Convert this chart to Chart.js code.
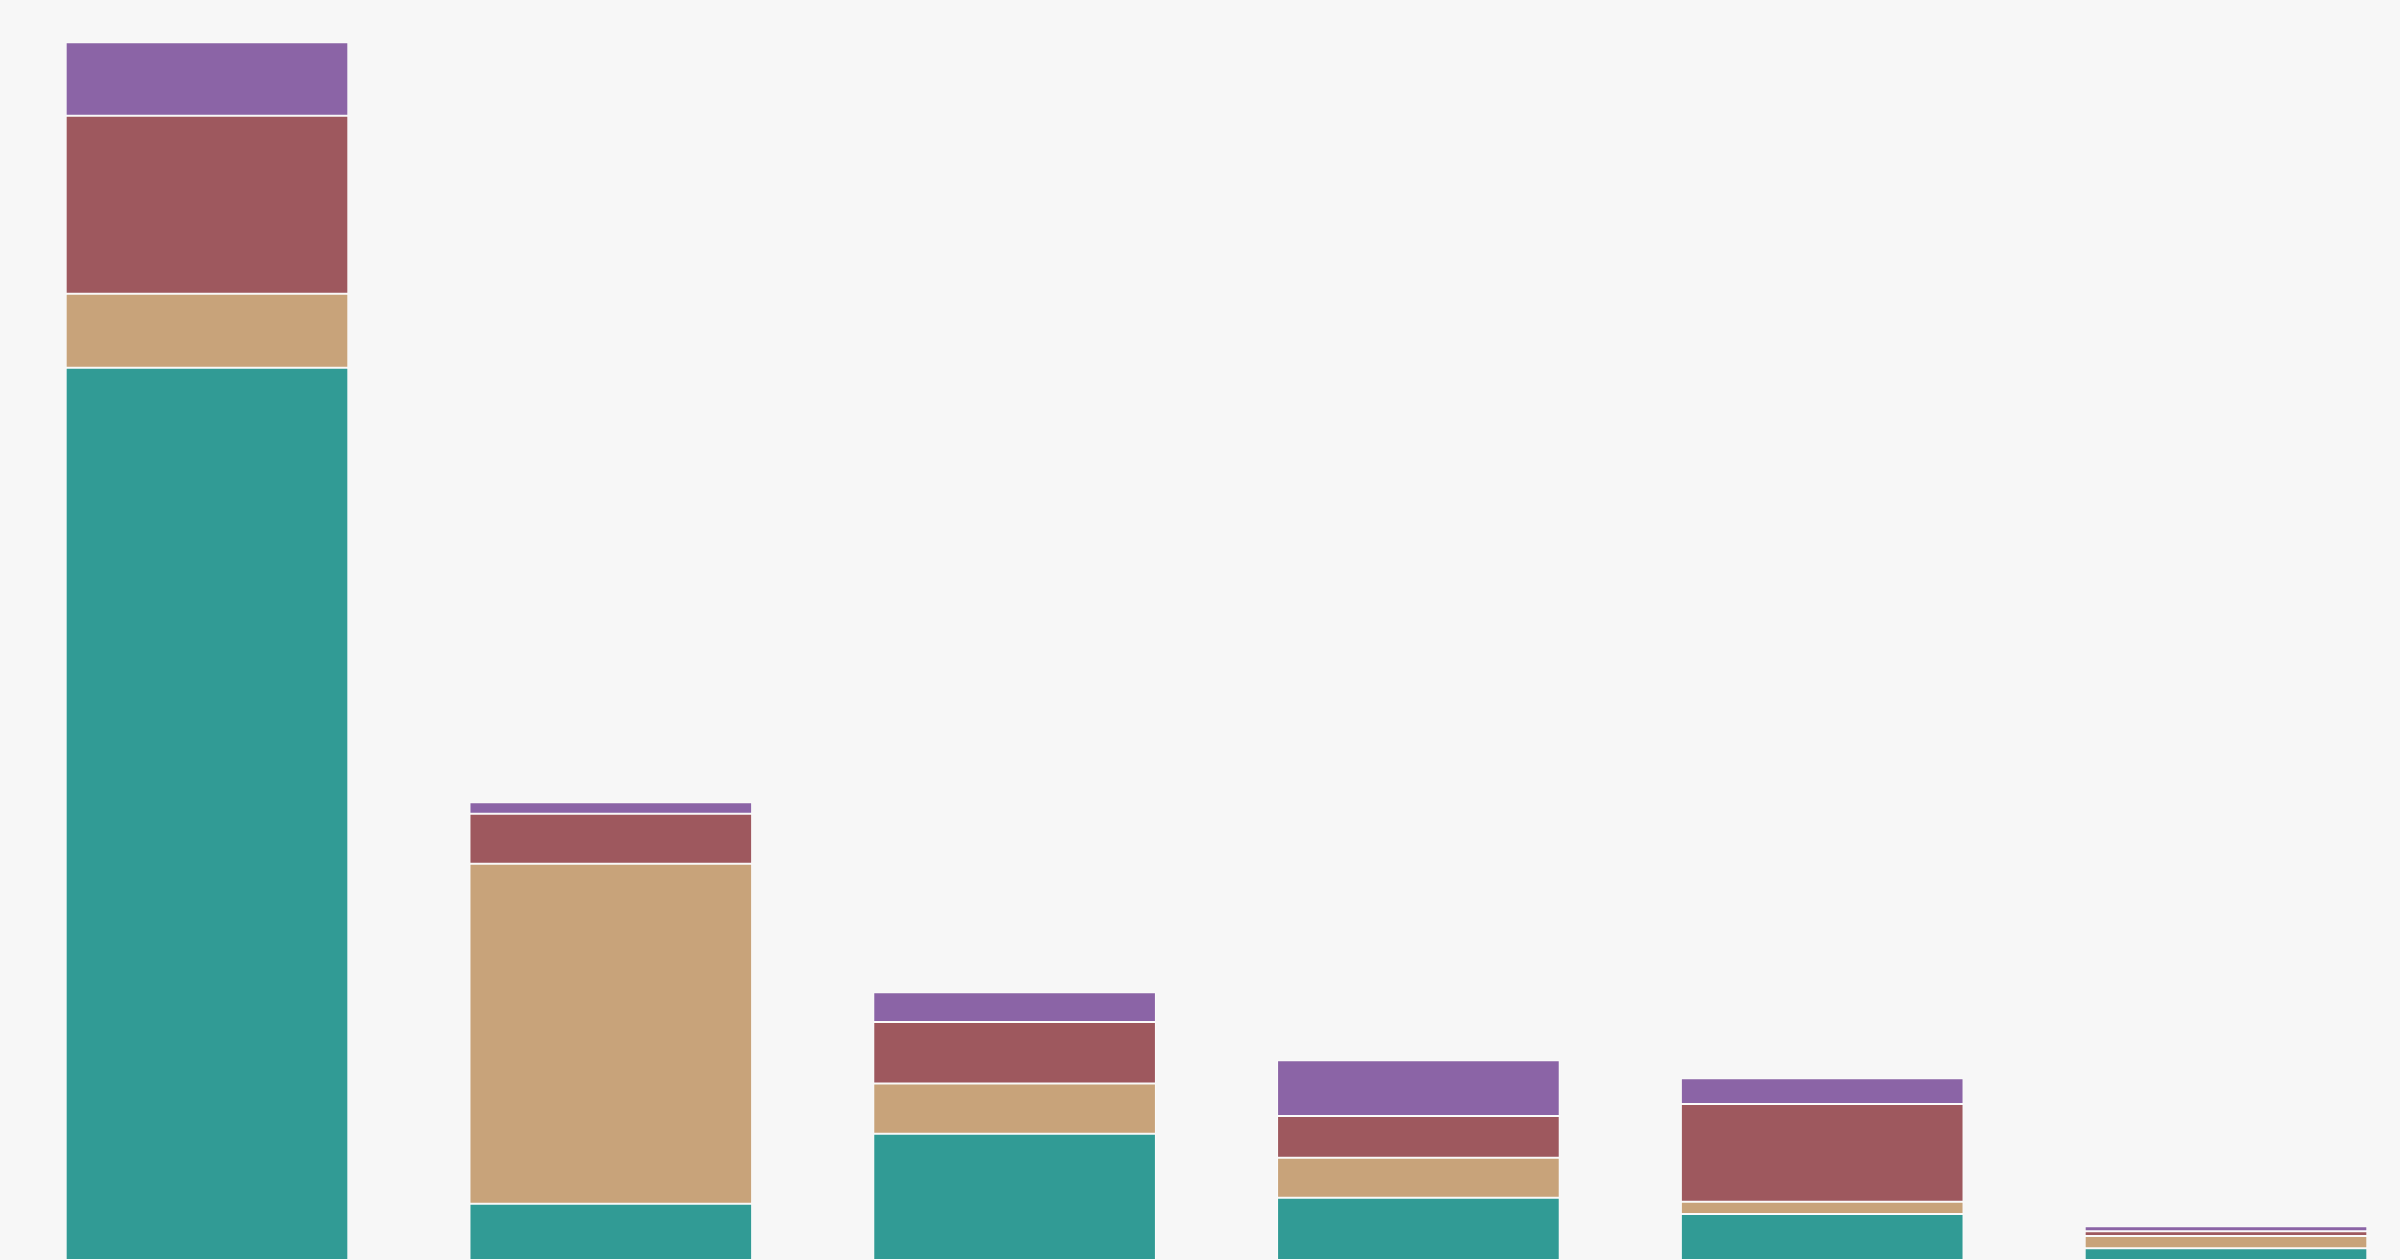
<!DOCTYPE html>
<html>
<head>
<meta charset="utf-8">
<script src="https://cdn.jsdelivr.net/npm/chart.js@4/dist/chart.umd.min.js"></script>
<style>
  html, body { margin: 0; padding: 0; background: #f7f7f7; }
  #c { display: block; }
</style>
</head>
<body>
<canvas id="c" width="2400" height="1260"></canvas>
<script>
const categories = ["A", "B", "C", "D", "E", "F"];
const seriesTeal   = [74.36, 4.69, 10.53, 5.19, 3.83, 0.97];
const seriesTan    = [6.17, 28.33, 4.17, 3.33, 1.03, 1.03];
const seriesRed    = [14.83, 4.17, 5.14, 3.48, 8.14, 0.39];
const seriesPurple = [6.12, 0.95, 2.48, 4.64, 2.14, 0.42];

const border = 'rgba(255,255,255,0.55)';
function ds(label, data, color) {
  return { label, data, backgroundColor: color, borderColor: border,
           borderWidth: 1, borderSkipped: false, clip: false };
}

new Chart(document.getElementById('c'), {
  type: 'bar',
  data: {
    labels: categories,
    datasets: [
      ds('Teal', seriesTeal, '#319b95'),
      ds('Tan', seriesTan, '#c8a37a'),
      ds('Red', seriesRed, '#9e585e'),
      ds('Purple', seriesPurple, '#8b64a6')
    ]
  },
  options: {
    responsive: false,
    animation: false,
    layout: { padding: { left: 207, right: 174, top: 0, bottom: 0 } },
    datasets: { bar: { categoryPercentage: 0.7, barPercentage: 1.0 } },
    plugins: { legend: { display: false }, tooltip: { enabled: false } },
    scales: {
      x: { stacked: true, offset: false, display: false, grid: { display: false } },
      y: { stacked: true, display: false, min: 0, max: 105, grid: { display: false } }
    }
  }
});
</script>
</body>
</html>
